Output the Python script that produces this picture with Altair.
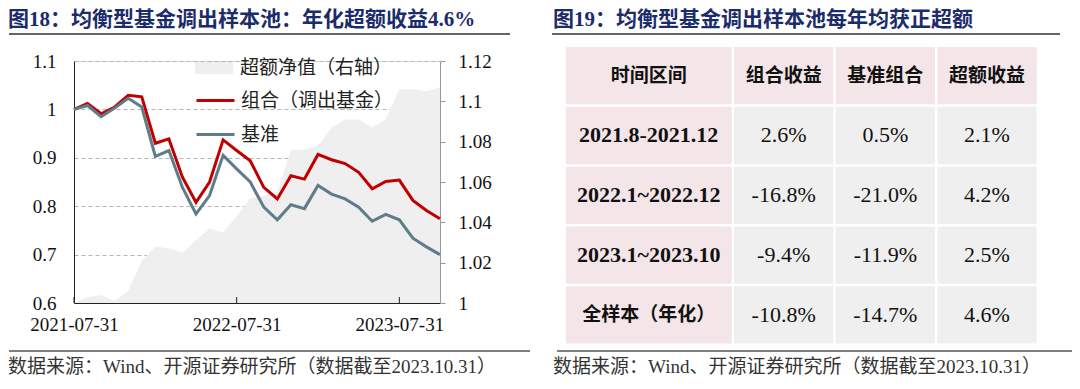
import altair as alt
import pandas as pd

# ---------------- data ----------------
dates = ["2021-07-31", "2021-08-31", "2021-09-30", "2021-10-31", "2021-11-30", "2021-12-31",
         "2022-01-31", "2022-02-28", "2022-03-31", "2022-04-30", "2022-05-31", "2022-06-30",
         "2022-07-31", "2022-08-31", "2022-09-30", "2022-10-31", "2022-11-30", "2022-12-31",
         "2023-01-31", "2023-02-28", "2023-03-31", "2023-04-30", "2023-05-31", "2023-06-30",
         "2023-07-31", "2023-08-31", "2023-09-30", "2023-10-31"]
portfolio = [1.000, 1.012, 0.991, 1.005, 1.029, 1.026, 0.930, 0.939, 0.860, 0.808, 0.850, 0.937,
             0.915, 0.894, 0.839, 0.815, 0.863, 0.856, 0.907, 0.896, 0.888, 0.870, 0.836, 0.851,
             0.854, 0.812, 0.791, 0.774]
benchmark = [1.000, 1.008, 0.985, 1.003, 1.023, 1.005, 0.903, 0.915, 0.839, 0.784, 0.822, 0.905,
             0.877, 0.850, 0.798, 0.772, 0.803, 0.795, 0.843, 0.825, 0.815, 0.798, 0.769, 0.783,
             0.772, 0.734, 0.716, 0.700]
excess = [1.000, 1.003, 1.004, 1.001, 1.006, 1.021, 1.028, 1.027, 1.025, 1.031, 1.037, 1.035,
          1.043, 1.052, 1.053, 1.055, 1.076, 1.076, 1.078, 1.087, 1.091, 1.091, 1.087, 1.091,
          1.106, 1.106, 1.105, 1.107]

legend_area = "超额净值（右轴）"
legend_port = "组合（调出基金）"
legend_bench = "基准"

x_ticks = ["2021-07-31", "2022-07-31", "2023-07-31"]
left_ticks = [0.6, 0.7, 0.8, 0.9, 1.0, 1.1]
right_ticks = [1.0, 1.02, 1.04, 1.06, 1.08, 1.1, 1.12]

table_header = ["时间区间", "组合收益", "基准组合", "超额收益"]
table_periods = ["2021.8-2021.12", "2022.1~2022.12", "2023.1~2023.10", "全样本（年化）"]
table_port = ["2.6%", "-16.8%", "-9.4%", "-10.8%"]
table_bench = ["0.5%", "-21.0%", "-11.9%", "-14.7%"]
table_excess = ["2.1%", "4.2%", "2.5%", "4.6%"]

title_left = "图18：均衡型基金调出样本池：年化超额收益4.6%"
title_right = "图19：均衡型基金调出样本池每年均获正超额"
source_text = "数据来源：Wind、开源证券研究所（数据截至2023.10.31）"

# ---------------- styles ----------------
SERIF = "'Liberation Serif', 'Noto Sans CJK SC'"
CJK = "'Noto Sans CJK SC'"
RED = "#c00000"
BLUE = "#5f7d88"
AREA_C = "#efefef"
PINK = "#f4e6e8"
GREY = "#efefef"
NAVY = "#1b2c6b"

W, H = 366, 242
PAD_L, PAD_T = 66, 53
TOTAL_W, TOTAL_H = 1064, 373

# ---------------- line chart ----------------
df = pd.DataFrame({"date": dates, "excess": excess, "area_series": [legend_area] * len(dates)})
df_lines = pd.DataFrame({
    "date": dates + dates,
    "value": portfolio + benchmark,
    "series": [legend_port] * len(dates) + [legend_bench] * len(dates),
})

X = alt.X("date:O", sort=dates,
          scale=alt.Scale(type="point", padding=0, domain=dates),
          axis=alt.Axis(values=x_ticks, labelAngle=0, ticks=False, domainColor="#222",
                        domainWidth=1, labelFont=SERIF, labelFontSize=19, labelColor="#111",
                        labelPadding=12, labelFlush=False, labelOverlap=False, grid=False),
          title=None)

area = alt.Chart(df).mark_area(opacity=1).encode(
    x=X,
    y=alt.Y("excess:Q", scale=alt.Scale(domain=[1.0, 1.12], zero=False, nice=False),
            axis=alt.Axis(orient="right", values=right_ticks, format=".2~f", grid=False,
                          domainColor="#999", ticks=True, tickColor="#999", tickSize=5,
                          labelFont=SERIF, labelFontSize=19, labelColor="#111",
                          labelPadding=13, labelFlush=False, labelOverlap=False),
            title=None),
    y2=alt.datum(1.0),
    fill=alt.Fill("area_series:N", scale=alt.Scale(domain=[legend_area], range=[AREA_C]),
                  legend=alt.Legend(orient="none", legendX=130, legendY=-3, title=None,
                                    symbolType="M-1.9,-0.6L1.9,-0.6L1.9,0.6L-1.9,0.6Z",
                                    symbolSize=400, symbolStrokeWidth=0, labelOffset=16,
                                    labelFont=CJK, labelFontSize=19, labelColor="#222",
                                    padding=0, labelLimit=0)),
)

lines = alt.Chart(df_lines).mark_line(strokeWidth=3).encode(
    x=X,
    y=alt.Y("value:Q", scale=alt.Scale(domain=[0.6, 1.1], zero=False, nice=False),
            axis=alt.Axis(orient="left", values=left_ticks, format=".2~f", grid=True,
                          gridDash=[4, 3], gridColor="#b5b5b5", gridWidth=1,
                          domainColor="#222", domainWidth=1, ticks=False,
                          labelFont=SERIF, labelFontSize=19, labelColor="#111",
                          labelPadding=18, labelFlush=False, labelOverlap=False),
            title=None),
    stroke=alt.Stroke("series:N", scale=alt.Scale(domain=[legend_port, legend_bench], range=[RED, BLUE]),
                      legend=alt.Legend(orient="none", legendX=130, legendY=28, title=None,
                                        symbolType="M-1.9,0L1.9,0", symbolSize=400,
                                        symbolStrokeWidth=3, labelOffset=14, rowPadding=12,
                                        labelFont=CJK, labelFontSize=19, labelColor="#222",
                                        padding=0, labelLimit=0)),
    detail="series:N",
)

ticks_df = pd.DataFrame({"date": x_ticks})
inner_ticks = alt.Chart(ticks_df).mark_rule(color="#222", strokeWidth=1).encode(
    x=X, y=alt.value(H), y2=alt.value(H - 6))

chart_layer = alt.layer(area, lines, inner_ticks).resolve_scale(y="independent")

# ---------------- table ----------------
rows = [table_header[0]] + table_periods
cols = table_header[1:]
ROW_SCALE = alt.Scale(type="band", domain=rows, range=[-14, 282.6], paddingInner=0.042, paddingOuter=0)
C1_SCALE = alt.Scale(type="band", domain=[table_header[0]], range=[491.7, 657.7], paddingInner=0, paddingOuter=0)
C_SCALE = alt.Scale(type="band", domain=cols, range=[660, 962.7], paddingInner=0.023, paddingOuter=0)

df_c1 = pd.DataFrame({"row": rows, "col": [table_header[0]] * len(rows), "text": rows})
df_c1_cjk = df_c1[df_c1["row"].isin([table_header[0], table_periods[3]])]
df_c1_num = df_c1[df_c1["row"].isin(table_periods[:3])]

vals = []
for i, p in enumerate(table_periods):
    for c, v in zip(cols, [table_port[i], table_bench[i], table_excess[i]]):
        vals.append({"row": p, "col": c, "text": v})
df_vals = pd.DataFrame(vals)
df_head = pd.DataFrame({"row": [table_header[0]] * len(cols), "col": cols, "text": cols})
df_cells = pd.concat([df_head, df_vals])

Y_T = alt.Y("row:N", scale=ROW_SCALE, axis=None, title=None)
X_C1 = alt.X("col:N", scale=C1_SCALE, axis=None, title=None)
X_C = alt.X("col:N", scale=C_SCALE, axis=None, title=None)

c1_rect = alt.Chart(df_c1).mark_rect(color=PINK).encode(x=X_C1, y=Y_T)
c1_txt_cjk = alt.Chart(df_c1_cjk).mark_text(font=CJK, fontSize=19, fontWeight="bold", color="#111").encode(
    x=X_C1, y=Y_T, text="text:N")
c1_txt_num = alt.Chart(df_c1_num).mark_text(font=SERIF, fontSize=22, fontWeight="bold", color="#111").encode(
    x=X_C1, y=Y_T, text="text:N")
col1_layer = alt.layer(c1_rect, c1_txt_cjk, c1_txt_num)

cell_rect = alt.Chart(df_cells).mark_rect().encode(
    x=X_C, y=Y_T,
    color=alt.condition(alt.datum.row == table_header[0], alt.value(PINK), alt.value(GREY)))
head_txt = alt.Chart(df_head).mark_text(font=CJK, fontSize=19, fontWeight="bold", color="#111").encode(
    x=X_C, y=Y_T, text="text:N")
val_txt = alt.Chart(df_vals).mark_text(font=SERIF, fontSize=22, color="#111").encode(
    x=X_C, y=Y_T, text="text:N")
cols_layer = alt.layer(cell_rect, head_txt, val_txt)

# ---------------- titles, separators, sources ----------------
one = pd.DataFrame({"a": [0]})


def txt(s, x, y, size, color, weight="normal", font=SERIF):
    return alt.Chart(pd.DataFrame({"t": [s]})).mark_text(
        align="left", baseline="middle", font=font, fontSize=size, fontWeight=weight, color=color
    ).encode(text="t:N", x=alt.value(x), y=alt.value(y))


def hrule(x1, x2, y, color, width):
    return alt.Chart(one).mark_rule(color=color, strokeWidth=width).encode(
        x=alt.value(x1), x2=alt.value(x2), y=alt.value(y))


annotations = [
    txt(title_left, -66, -41, 21, NAVY, "bold"),
    txt(title_right, 479, -41, 21, NAVY, "bold"),
    hrule(-65, 436, -27, "#666", 2),
    hrule(478, 986, -27, "#666", 2),
    hrule(-65, 456, 290, "#555", 1.5),
    hrule(483, 1003, 290, "#555", 1.5),
    txt(source_text, -66, 306, 19, "#333"),
    txt(source_text, 479, 306, 19, "#333"),
]

chart = alt.layer(chart_layer, col1_layer, cols_layer, *annotations).resolve_scale(
    x="independent", y="independent"
).properties(
    width=W, height=H,
    padding={"left": PAD_L, "top": PAD_T, "right": TOTAL_W - PAD_L - W, "bottom": TOTAL_H - PAD_T - H},
    autosize=alt.AutoSizeParams(type="none"),
).configure_view(stroke=None).configure(background="white")

chart.save("out.html", embed_options={"renderer": "svg", "actions": False})
